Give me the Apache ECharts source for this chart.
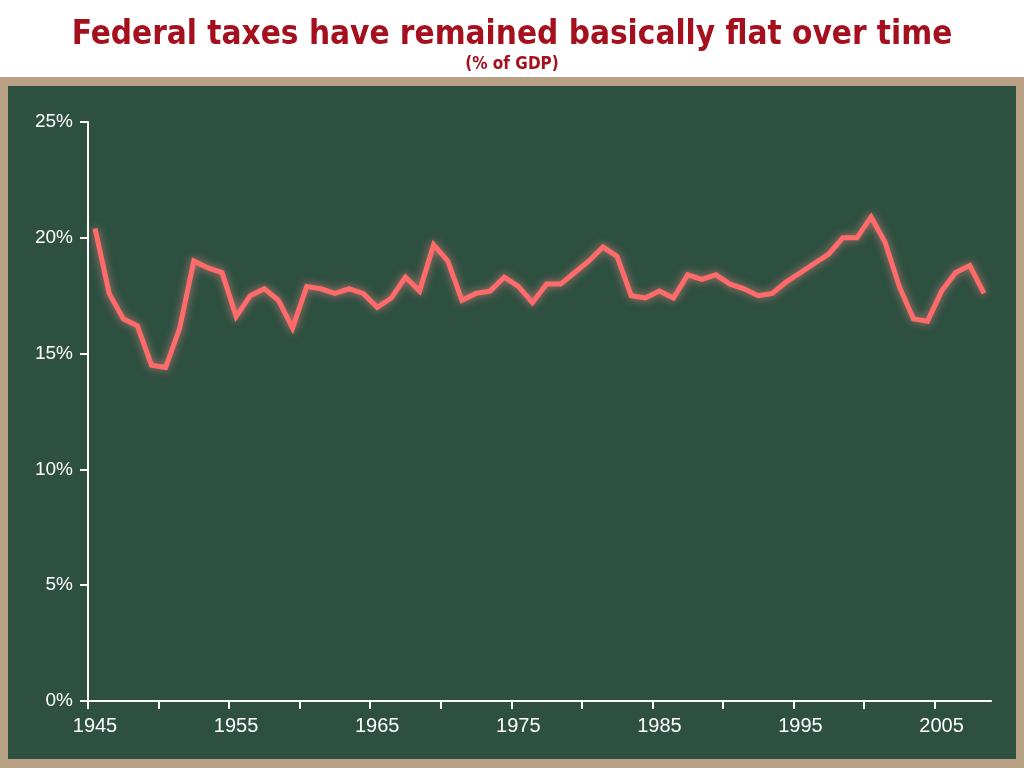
<!DOCTYPE html>
<html>
<head>
<meta charset="utf-8">
<script src="https://cdn.jsdelivr.net/npm/echarts@6/dist/echarts.min.js"></script>
<style>
html,body{margin:0;padding:0;background:#fff;}
#c{width:1024px;height:768px;}
</style>
</head>
<body>
<div id="c"></div>
<script>
// Fiscal years and federal receipts as % of GDP
const years = [
  1945,1946,1947,1948,1949,1950,1951,1952,1953,1954,
  1955,1956,1957,1958,1959,1960,1961,1962,1963,1964,
  1965,1966,1967,1968,1969,1970,1971,1972,1973,1974,
  1975,1976,1977,1978,1979,1980,1981,1982,1983,1984,
  1985,1986,1987,1988,1989,1990,1991,1992,1993,1994,
  1995,1996,1997,1998,1999,2000,2001,2002,2003,2004,
  2005,2006,2007,2008
];
const taxesPctGDP = [
  20.4,17.6,16.5,16.2,14.5,14.4,16.1,19.0,18.7,18.5,
  16.6,17.5,17.8,17.3,16.1,17.9,17.8,17.6,17.8,17.6,
  17.0,17.4,18.3,17.7,19.7,19.0,17.3,17.6,17.7,18.3,
  17.9,17.2,18.0,18.0,18.5,19.0,19.6,19.2,17.5,17.4,
  17.7,17.4,18.4,18.2,18.4,18.0,17.8,17.5,17.6,18.1,
  18.5,18.9,19.3,20.0,20.0,20.9,19.8,17.9,16.5,16.4,
  17.7,18.5,18.8,17.6
];
const yTicks = [0,5,10,15,20,25];
const xTickValues = [1945,1950,1955,1960,1965,1970,1975,1980,1985,1990,1995,2000,2005];
const xTickLabels = [1945,1955,1965,1975,1985,1995,2005];

const chart = echarts.init(document.getElementById('c'), null, {renderer:'canvas'});
const seriesData = years.map((y,i)=>[y + 0.5, taxesPctGDP[i]]);

chart.setOption({
  backgroundColor:'#ffffff',
  animation:false,
  graphic:[
    {type:'rect', z:-10, shape:{x:0,y:77,width:1024,height:691}, style:{fill:'#b7a084'}},
    {type:'rect', z:-9, shape:{x:8,y:86,width:1008,height:673}, style:{fill:'#2d5040'}}
  ],
  title:[
    {text:'Federal taxes have remained basically flat over time', left:'center', top:14,
     textStyle:{color:'#a5101e', fontSize:33, fontWeight:'bold', fontFamily:'DejaVu Sans Condensed'}},
    {text:'(% of GDP)', left:'center', top:51,
     textStyle:{color:'#a5101e', fontSize:17, fontWeight:'bold', fontFamily:'DejaVu Sans Condensed'}}
  ],
  grid:{left:88, right:33, top:122, bottom:67, containLabel:false},
  xAxis:{
    type:'value', min:1945, max:2009, interval:5,
    axisLine:{lineStyle:{color:'#ffffff', width:2}},
    axisTick:{show:true, length:8, inside:false, customValues:xTickValues, lineStyle:{color:'#ffffff', width:2}},
    splitLine:{show:false},
    axisLabel:{color:'#ffffff', fontSize:20, fontFamily:'Liberation Sans', margin:15,
      padding:[0,0,0,14], customValues:xTickLabels, formatter:v=>String(v)}
  },
  yAxis:{
    type:'value', min:0, max:25, interval:5,
    axisLine:{show:true, lineStyle:{color:'#ffffff', width:2}},
    axisTick:{show:true, length:8, lineStyle:{color:'#ffffff', width:2}},
    splitLine:{show:false},
    axisLabel:{color:'#ffffff', fontSize:19, fontFamily:'Liberation Sans', margin:15,
      formatter:v=> yTicks.indexOf(v)>=0 ? v+'%' : ''}
  },
  series:[{
    type:'line', data:seriesData, showSymbol:false, symbol:'none',
    lineStyle:{color:'#ff6b6b', width:5, shadowBlur:8, shadowColor:'rgba(255,140,140,0.7)', join:'miter'},
    z:5
  }]
});
</script>
</body>
</html>
